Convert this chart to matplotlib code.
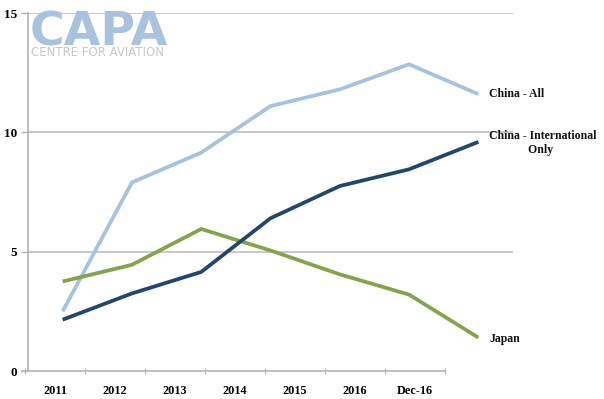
import matplotlib
matplotlib.use("Agg")
import matplotlib.pyplot as plt

# values
years = ["2011", "2012", "2013", "2014", "2015", "2016", "Dec-16"]
china_all = [2.5, 7.9, 9.15, 11.1, 11.8, 12.85, 11.6]
china_intl = [2.15, 3.25, 4.15, 6.4, 7.75, 8.45, 9.6]
japan = [3.75, 4.45, 5.95, 5.05, 4.05, 3.2, 1.4]

W, H = 604, 399
fig = plt.figure(figsize=(W / 100, H / 100), dpi=100)
fig.patch.set_facecolor("white")

serif = ["Liberation Serif", "DejaVu Serif"]
grey = "#b4b4b4"

# main plot area (data positions)
ax = fig.add_axes([28 / W, (H - 371) / H, 485 / W, 358 / H])
ax.set_xlim(-0.5, 6.5)
ax.set_ylim(0, 15)
x = list(range(len(years)))
ax.plot(x, china_all, color="#a7c2df", lw=2.7, solid_capstyle="butt", zorder=3)
ax.plot(x, china_intl, color="#22476b", lw=2.7, solid_capstyle="butt", zorder=4)
ax.plot(x, japan, color="#87a24f", lw=2.7, solid_capstyle="butt", zorder=3)

for s in ["top", "right", "bottom"]:
    ax.spines[s].set_visible(False)
ax.spines["left"].set_color(grey)
ax.spines["left"].set_linewidth(1.2)
ax.set_yticks([0, 5, 10, 15])
ax.set_yticklabels(["0", "5", "10", "15"], fontfamily=serif, fontweight="bold", fontsize=9.5)
ax.tick_params(axis="y", length=5, color=grey, width=1.0, pad=3)
ax.set_xticks([])
ax.yaxis.grid(True, color="#c8c8c8", lw=1.4)
ax.get_ygridlines()[0].set_visible(False)
ax.set_axisbelow(True)

lab = dict(textcoords="offset points", va="center", ha="left",
           fontfamily=serif, fontweight="bold", fontsize=8.5, color="#111111")
ax.annotate("China - All", xy=(6, china_all[-1]), xytext=(8, 0), **lab)
ax.annotate("China - International\n             Only", xy=(6, china_intl[-1]),
            xytext=(8, -1), linespacing=1.2, **lab)
ax.annotate("Japan", xy=(6, japan[-1]), xytext=(8, -1), **lab)

# category axis drawn separately as in the reference
ax2 = fig.add_axes([22 / W, (H - 371) / H, 423 / W, 0.001])
ax2.set_xlim(-0.05, 7)
ax2.patch.set_visible(False)
for s in ["top", "right", "left"]:
    ax2.spines[s].set_visible(False)
ax2.spines["bottom"].set_color(grey)
ax2.spines["bottom"].set_linewidth(1.2)
ax2.set_yticks([])
ax2.set_xticks(range(8))
ax2.set_xticklabels([])
ax2.set_xticks([i + 0.5 for i in range(len(years))], minor=True)
ax2.set_xticklabels(years, minor=True, fontfamily=serif, fontweight="bold", fontsize=8.8)
ax2.tick_params(axis="x", which="major", length=5, direction="inout", color=grey)
ax2.tick_params(axis="x", which="minor", length=0, pad=10)

# CAPA logo
fig.text(30 / W, 1 - 45 / H, "CAPA", fontfamily="DejaVu Sans", fontweight="bold",
         fontsize=34, color="#a9c3de", ha="left", va="baseline")
fig.text(31 / W, 1 - 56 / H, "CENTRE FOR AVIATION", fontfamily="DejaVu Sans",
         fontsize=8.5, color="#c8c8c8", ha="left", va="baseline")

fig.savefig("out.png", dpi=100)
